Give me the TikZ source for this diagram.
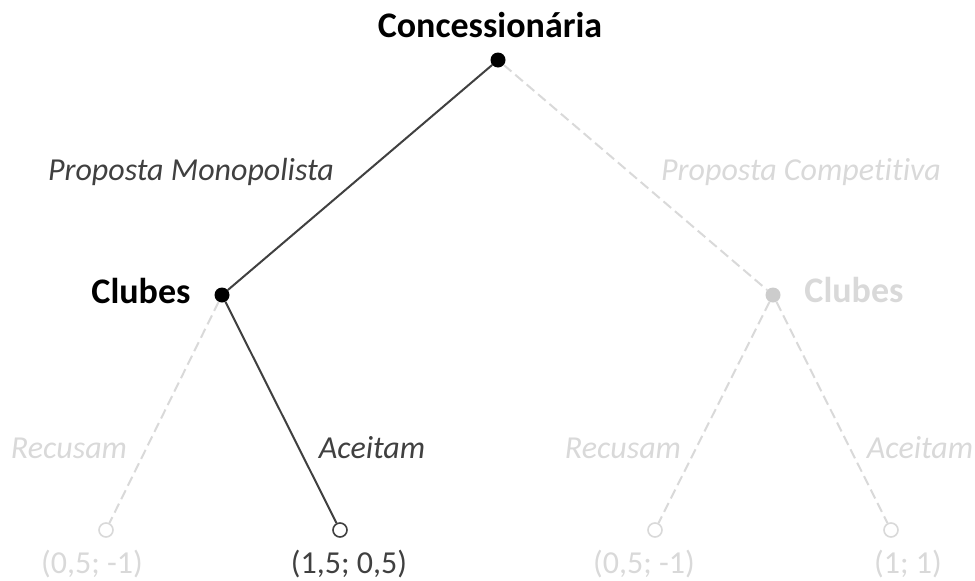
\documentclass[tikz,border=0pt]{standalone}
\usepackage{fontspec}
\setmainfont[Ligatures=NoCommon]{Carlito}
\definecolor{dk}{HTML}{404040}
\definecolor{lg}{HTML}{D9D9D9}
\definecolor{lgdot}{HTML}{CCCCCC}
\begin{document}
\begin{tikzpicture}[x=1pt,y=-1pt,
  dec/.style={circle, fill=black, inner sep=0pt, minimum size=15pt},
  decg/.style={circle, fill=lgdot, inner sep=0pt, minimum size=15pt},
  leaf/.style={circle, draw=dk, line width=1.6pt, fill=white, inner sep=0pt, minimum size=14pt},
  leafg/.style={circle, draw=lg, line width=1.6pt, fill=white, inner sep=0pt, minimum size=14pt},
  blk/.style={draw=dk, line width=2pt},
  gry/.style={draw=lg, line width=2pt, dash pattern=on 10pt off 5pt},
  player/.style={anchor=base, inner sep=0pt, font=\fontsize{36}{40}\selectfont\bfseries},
  act/.style={anchor=base, inner sep=0pt, font=\fontsize{32}{36}\selectfont\itshape},
  pay/.style={anchor=base, inner sep=0pt, font=\fontsize{32}{36}\selectfont}]
\useasboundingbox (0,0) rectangle (975,581);
% decision nodes
\node[dec] (root) at (498,60) {};
\node[dec] (cl) at (222,295) {};
\node[decg] (cr) at (773,295) {};
% leaves
\node[leafg] (l1) at (106,530) {};
\node[leaf] (l2) at (340,530) {};
\node[leafg] (l3) at (655,530) {};
\node[leafg] (l4) at (891,530) {};
% edges
\draw[gry] (root) -- (cr);
\draw[gry] (cl) -- (l1);
\draw[gry] (cr) -- (l3);
\draw[gry] (cr) -- (l4);
\draw[blk] (root) -- (cl);
\draw[blk] (cl) -- (l2);
% player labels
\node[player] (tc) at (490,37) {Concessionária};
\node[player] (tcl) at (141,303) {Clubes};
\node[player, text=lg] (tcr) at (854,302) {Clubes};
% action labels
\node[act, text=dk] (pm) at (191,180) {Proposta Monopolista};
\node[act, text=lg] (pc) at (801,180) {Proposta Competitiva};
\node[act, text=lg] (r1) at (69,458) {Recusam};
\node[act, text=dk] (a1) at (372,458) {Aceitam};
\node[act, text=lg] (r2) at (623,458) {Recusam};
\node[act, text=lg] (a2) at (920,458) {Aceitam};
% payoffs
\node[pay, text=lg] (p1) at (92,573) {(0,5; -1)};
\node[pay, text=dk] (p2) at (349,573) {(1,5; 0,5)};
\node[pay, text=lg] (p3) at (644,573) {(0,5; -1)};
\node[pay, text=lg] (p4) at (908,573) {(1; 1)};
\end{tikzpicture}
\end{document}
